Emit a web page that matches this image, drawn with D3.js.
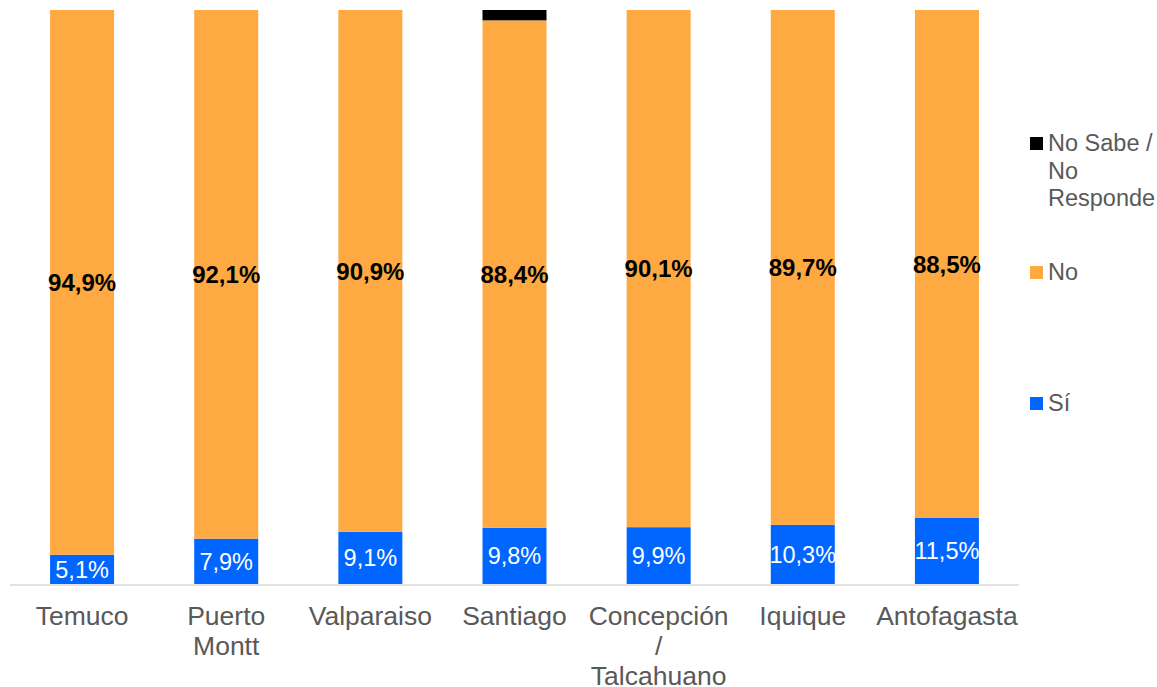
<!DOCTYPE html>
<html>
<head>
<meta charset="utf-8">
<script src="https://cdn.jsdelivr.net/npm/d3@7"></script>
<style>
  body { margin: 0; background: #fff; }
  text { font-family: Arial, "Liberation Sans", sans-serif; }
</style>
</head>
<body>
<div id="chart"></div>
<script>
// datos
const ciudades = ["Temuco", "Puerto Montt", "Valparaiso", "Santiago", "Concepción / Talcahuano", "Iquique", "Antofagasta"];
const etiquetas = [["Temuco"], ["Puerto", "Montt"], ["Valparaiso"], ["Santiago"], ["Concepción", "/", "Talcahuano"], ["Iquique"], ["Antofagasta"]];
const si = [5.1, 7.9, 9.1, 9.8, 9.9, 10.3, 11.5];
const no = [94.9, 92.1, 90.9, 88.4, 90.1, 89.7, 88.5];
const nsnr = [0, 0, 0, 1.8, 0, 0, 0];
const series = ["Sí", "No", "No Sabe / No Responde"];
const colores = ["#0066FF", "#FFA942", "#000000"];

const width = 1157, height = 687;

const svg = d3.select("#chart").append("svg")
  .attr("width", width)
  .attr("height", height);

const x = d3.scaleBand()
  .domain(ciudades)
  .range([10, 1019])
  .paddingInner(0.556)
  .paddingOuter(0.278);

const y = d3.scaleLinear().domain([0, 100]).range([584, 10]);

const tabla = ciudades.map((c, i) => ({ ciudad: c, "Sí": si[i], "No": no[i], "No Sabe / No Responde": nsnr[i] }));
const stack = d3.stack().keys(series)(tabla);

const color = d3.scaleOrdinal().domain(series).range(colores);

// barras
stack.forEach(s => {
  svg.append("g").selectAll("rect")
    .data(s)
    .join("rect")
    .attr("x", d => x(d.data.ciudad))
    .attr("width", x.bandwidth())
    .attr("y", d => y(d[1]))
    .attr("height", d => y(d[0]) - y(d[1]))
    .attr("fill", color(s.key));
});

const fmt = v => v.toFixed(1).replace(".", ",") + "%";

// etiquetas Sí
svg.append("g").selectAll("text")
  .data(stack[0])
  .join("text")
  .attr("x", d => x(d.data.ciudad) + x.bandwidth() / 2)
  .attr("y", d => (y(d[0]) + y(d[1])) / 2)
  .attr("dy", "0.36em")
  .attr("text-anchor", "middle")
  .attr("fill", "#fff")
  .attr("font-size", 23.5)
  .text(d => fmt(d[1] - d[0]));

// etiquetas No
svg.append("g").selectAll("text")
  .data(stack[1])
  .join("text")
  .attr("x", d => x(d.data.ciudad) + x.bandwidth() / 2)
  .attr("y", d => (y(d[0]) + y(d[1])) / 2)
  .attr("dy", "0.36em")
  .attr("text-anchor", "middle")
  .attr("fill", "#000")
  .attr("font-size", 24)
  .attr("font-weight", "bold")
  .text(d => fmt(d[1] - d[0]));

// eje x
svg.append("line")
  .attr("x1", 10).attr("x2", 1019)
  .attr("y1", 585).attr("y2", 585)
  .attr("stroke", "#D9D9D9")
  .attr("stroke-width", 1.5);

const cat = svg.append("g").selectAll("text")
  .data(ciudades)
  .join("text")
  .attr("x", d => x(d) + x.bandwidth() / 2)
  .attr("y", 625)
  .attr("text-anchor", "middle")
  .attr("fill", "#595959")
  .attr("font-size", 26.5);
cat.selectAll("tspan")
  .data((d, i) => etiquetas[i])
  .join("tspan")
  .attr("x", function () { return this.parentNode.getAttribute("x"); })
  .attr("dy", (d, i) => i === 0 ? 0 : 30)
  .text(d => d);

// leyenda
const leyenda = [
  { key: "No Sabe / No Responde", lineas: ["No Sabe /", "No", "Responde"], y: 143 },
  { key: "No", lineas: ["No"], y: 272 },
  { key: "Sí", lineas: ["Sí"], y: 403 }
];
const lg = svg.append("g").selectAll("g")
  .data(leyenda)
  .join("g");
lg.append("rect")
  .attr("x", 1030)
  .attr("y", d => d.y - 6)
  .attr("width", 13)
  .attr("height", 13)
  .attr("fill", d => color(d.key));
lg.append("text")
  .attr("x", 1048)
  .attr("y", d => d.y)
  .attr("fill", "#595959")
  .attr("font-size", 23.5)
  .selectAll("tspan")
  .data(d => d.lineas)
  .join("tspan")
  .attr("x", 1048)
  .attr("dy", (d, i) => i === 0 ? "0.36em" : 27.5)
  .text(d => d);
</script>
</body>
</html>
